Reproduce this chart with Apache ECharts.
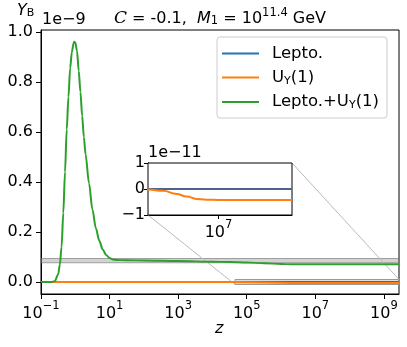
<!DOCTYPE html>
<html>
<head>
<meta charset="utf-8">
<script src="https://cdn.jsdelivr.net/npm/echarts@6/dist/echarts.min.js"></script>
<style>
  html, body { margin: 0; padding: 0; background: #fff; }
  #chart { width: 407px; height: 347px; }
</style>
</head>
<body>
<div id="chart"></div>
<script>
// x values are log10(z); y values in units of 1e-9 (main) / 1e-11 (inset)
var zMin = -1, zMax = 9.44;
var xTicks = [-1, 1, 3, 5, 7, 9];
var yTicks = [0, 0.2, 0.4, 0.6, 0.8, 1.0];

var leptoX = [-1, 9.44];
var leptoY = [0, 0];

var uyX = [-1, 4.0, 4.66, 5.16, 5.61, 5.94, 6.27, 6.6, 7.0, 9.44];
var uyY = [0, 0, -0.02, -0.07, -0.19, -0.29, -0.38, -0.41, -0.42, -0.42];   // 1e-11

var sumX = [-1, -0.8, -0.7, -0.6, -0.5, -0.45, -0.4, -0.35, -0.3, -0.25, -0.2, -0.15, -0.1, -0.05, -0.03, 0,
            0.05, 0.1, 0.15, 0.2, 0.25, 0.3, 0.4, 0.5, 0.6, 0.7, 0.8, 0.9, 1.0, 1.1, 1.2, 1.5, 2, 3, 4, 4.5, 5,
            5.5, 6, 6.3, 7, 8, 9.44];
var sumY = [0, 0, 0, 0.003, 0.03, 0.07, 0.141, 0.276, 0.44, 0.61, 0.74, 0.855, 0.92, 0.955, 0.961, 0.958,
            0.925, 0.845, 0.76, 0.665, 0.58, 0.51, 0.395, 0.29, 0.215, 0.165, 0.13, 0.108, 0.096, 0.09, 0.088, 0.087, 0.086, 0.084, 0.081, 0.08, 0.078,
            0.075, 0.072, 0.071, 0.071, 0.071, 0.071];

var band = [0.077, 0.094];          // shaded Y_B band
var insetX = [4.66, 9.44];          // zoom window, log10(z)
var insetY = [-1, 1];               // 1e-11

function pairs(xs, ys, k) {
    return xs.map(function (x, i) { return [x, ys[i] * (k || 1)]; });
}
var FONT = 'DejaVu Sans';
var supRich = {
    b: { fontSize: 16, fontFamily: FONT, color: '#000', lineHeight: 22, verticalAlign: 'bottom' },
    s: { fontSize: 11.5, fontFamily: FONT, color: '#000', lineHeight: 22, verticalAlign: 'top' }
};
function powLabel(v) {
    var e = Math.round(v);
    return '{b|10}{s|' + (e < 0 ? '\u2212' + (-e) : e) + '}';
}
function minus(v) {
    return v < 0 ? '\u2212' + (-v) : String(v);
}

var chart = echarts.init(document.getElementById('chart'), null, { renderer: 'canvas' });
var legendNames = ['Lepto.', 'U_Y(1)', 'Lepto.+U_Y(1)'];

var option = {
    animation: false,
    textStyle: { fontFamily: FONT },
    color: ['#1f77b4', '#ff7f0e', '#2ca02c'],
    grid: [
        { left: 41, top: 30, right: 8, bottom: 53, show: true, borderColor: '#000', borderWidth: 1, backgroundColor: '#fff' },
        { left: 148, top: 163, width: 144, height: 52, show: true, borderColor: '#000', borderWidth: 1, backgroundColor: '#fff', z: 5 }
    ],
    legend: {
        data: legendNames,
        orient: 'vertical',
        left: 217, top: 37,
        padding: [8, 8, 7, 5],
        itemGap: 7,
        itemWidth: 37, itemHeight: 2,
        icon: 'rect',
        backgroundColor: 'rgba(255,255,255,0.8)',
        borderColor: '#ccc', borderWidth: 1, borderRadius: 3,
        formatter: function (name) {
            var p = name.split('U_Y');
            if (p.length < 2) return '{n|' + name + '}';
            return (p[0] ? '{n|' + p[0] + '}' : '') + '{n|U}{s|Y}{n|' + p[1] + '}';
        },
        textStyle: {
            padding: [0, 0, 0, 8],
            rich: {
                n: { fontSize: 16.5, fontFamily: FONT, color: '#000', lineHeight: 18 },
                s: { fontSize: 11, fontFamily: FONT, color: '#000', lineHeight: 18, verticalAlign: 'bottom' }
            }
        }
    },
    xAxis: [
        {
            gridIndex: 0, type: 'value', min: zMin, max: zMax,
            splitLine: { show: false },
            axisLine: { show: true, onZero: false, lineStyle: { color: '#000' } },
            axisTick: { show: true, length: 5, interval: 0, lineStyle: { color: '#000' }, customValues: xTicks },
            axisLabel: { margin: 6, interval: 0, formatter: powLabel, rich: supRich, customValues: xTicks }
        },
        {
            gridIndex: 1, type: 'value', min: insetX[0], max: insetX[1],
            splitLine: { show: false },
            axisLine: { show: true, onZero: false, lineStyle: { color: '#000' } },
            axisTick: { show: true, length: 4, lineStyle: { color: '#000' }, customValues: [7] },
            axisLabel: { margin: 4, formatter: powLabel, rich: supRich, customValues: [7] }
        }
    ],
    yAxis: [
        {
            gridIndex: 0, type: 'value', min: -0.048, max: 1.008,
            splitLine: { show: false },
            axisLine: { show: true, onZero: false, lineStyle: { color: '#000' } },
            axisTick: { show: true, length: 5, interval: 0, lineStyle: { color: '#000' }, customValues: yTicks },
            // labels are placed below with the axis scale (some were dropped by auto layout)
            axisLabel: { show: false }
        },
        {
            gridIndex: 1, type: 'value', min: insetY[0], max: insetY[1],
            splitLine: { show: false },
            axisLine: { show: true, onZero: false, lineStyle: { color: '#000' } },
            axisTick: { show: true, length: 4, interval: 0, lineStyle: { color: '#000' }, customValues: [-1, 0, 1] },
            axisLabel: { margin: 3, interval: 0, fontSize: 16, color: '#000', customValues: [-1, 0, 1], formatter: minus }
        }
    ],
    series: [
        {
            name: 'Lepto.', type: 'line', xAxisIndex: 0, yAxisIndex: 0, z: 2,
            data: pairs(leptoX, leptoY), symbol: 'none', lineStyle: { width: 2 },
            markArea: {
                silent: true,
                data: [
                    [{ yAxis: band[0], itemStyle: { color: 'rgba(128,128,128,0.35)', borderColor: 'rgba(110,110,110,0.6)', borderWidth: 1 } }, { yAxis: band[1] }],
                    [{ xAxis: insetX[0], yAxis: insetY[0] * 0.01, itemStyle: { color: 'rgba(150,150,150,0.3)', borderColor: '#999', borderWidth: 1 } },
                     { xAxis: insetX[1], yAxis: insetY[1] * 0.01 }]
                ]
            }
        },
        {
            name: 'U_Y(1)', type: 'line', xAxisIndex: 0, yAxisIndex: 0, z: 3,
            data: pairs(uyX, uyY, 0.01), symbol: 'none', lineStyle: { width: 2 }
        },
        {
            name: 'Lepto.+U_Y(1)', type: 'line', xAxisIndex: 0, yAxisIndex: 0, z: 4,
            data: pairs(sumX, sumY), symbol: 'none', smooth: 0.3, smoothMonotone: 'x', lineStyle: { width: 2 }
        },
        {
            name: 'inset-lepto', type: 'line', xAxisIndex: 1, yAxisIndex: 1, z: 6,
            data: pairs(leptoX, leptoY), symbol: 'none', lineStyle: { width: 2, color: '#4c6391' }
        },
        {
            name: 'inset-uy', type: 'line', xAxisIndex: 1, yAxisIndex: 1, z: 7,
            data: pairs(uyX, uyY), symbol: 'none', smooth: 0.5, smoothMonotone: 'x', lineStyle: { width: 2, color: '#ff7f0e' }
        }
    ]
};
chart.setOption(option);

// connector lines between inset and zoom window, from the library's own scales
var a1 = chart.convertToPixel({ gridIndex: 1 }, [insetX[1], insetY[1]]);
var b1 = chart.convertToPixel({ gridIndex: 0 }, [insetX[1], insetY[1] * 0.01]);
var a2 = chart.convertToPixel({ gridIndex: 1 }, [insetX[0], insetY[0]]);
var b2 = chart.convertToPixel({ gridIndex: 0 }, [insetX[0], insetY[0] * 0.01]);

var yLabels = yTicks.map(function (v) {
    var p = chart.convertToPixel({ gridIndex: 0 }, [zMin, v]);
    return { type: 'text', x: p[0] - 8, y: p[1], style: {
        text: v.toFixed(1), fontSize: 16, fontFamily: FONT, fill: '#000',
        textAlign: 'right', textVerticalAlign: 'middle' } };
});

chart.setOption({
    graphic: [
        { type: 'line', z: 1, shape: { x1: a1[0], y1: a1[1], x2: b1[0], y2: b1[1] }, style: { stroke: '#bbb', lineWidth: 1 } },
        { type: 'line', z: 1, shape: { x1: a2[0], y1: a2[1], x2: b2[0], y2: b2[1] }, style: { stroke: '#bbb', lineWidth: 1 } },
        { type: 'text', x: 220, y: 7, style: {
            text: '{c|C}{n| = -0.1,  }{i|M}{u|1}{n| = 10}{s|11.4}{n| GeV}',
            textAlign: 'center', fill: '#000',
            rich: {
                c: { fontSize: 17, fontFamily: 'DejaVu Serif', fontStyle: 'italic', lineHeight: 20, verticalAlign: 'bottom' },
                n: { fontSize: 16, fontFamily: FONT, lineHeight: 20, verticalAlign: 'bottom' },
                i: { fontSize: 16, fontFamily: FONT, fontStyle: 'italic', lineHeight: 20, verticalAlign: 'bottom' },
                u: { fontSize: 11.5, fontFamily: FONT, lineHeight: 20, verticalAlign: 'bottom' },
                s: { fontSize: 11.5, fontFamily: FONT, lineHeight: 20, verticalAlign: 'top' }
            }
        } },
        { type: 'text', x: 42, y: 12, style: { text: '1e\u22129', fontSize: 16, fontFamily: FONT, fill: '#000' } },
        { type: 'text', x: 148, y: 145, z: 10, style: { text: '1e\u221211', fontSize: 16, fontFamily: FONT, fill: '#000' } },
        { type: 'text', x: 17, y: 3, style: {
            text: '{i|Y}{s|B}', fill: '#000',
            rich: {
                i: { fontSize: 16, fontFamily: FONT, fontStyle: 'italic', lineHeight: 20, verticalAlign: 'top' },
                s: { fontSize: 11, fontFamily: FONT, lineHeight: 20, verticalAlign: 'middle' }
            }
        } },
        { type: 'text', x: 215, y: 321, style: { text: 'z', fontSize: 16, fontFamily: FONT, fontStyle: 'italic', fill: '#000' } }
    ].concat(yLabels)
});
</script>
</body>
</html>
